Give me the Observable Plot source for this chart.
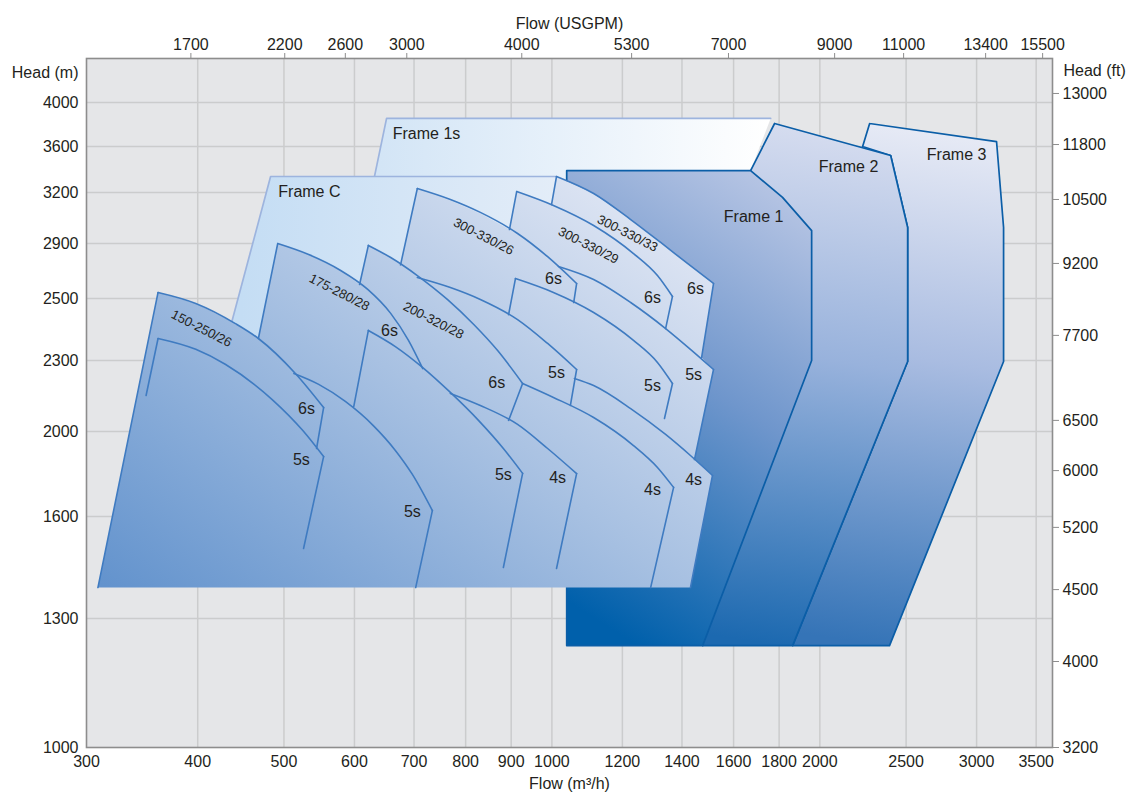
<!DOCTYPE html>
<html><head><meta charset="utf-8">
<script src="https://cdn.jsdelivr.net/npm/d3@7"></script>
<script src="https://cdn.jsdelivr.net/npm/@observablehq/plot@0.6"></script>
<style>html,body{margin:0;padding:0;background:#fff;}</style>
</head><body><div id="chart"></div>
<script>
// ---------- axis ticks ----------
const flowTicks = [300,400,500,600,700,800,900,1000,1200,1400,1600,1800,2000,2500,3000,3500];
const usgpmTicks = [1700,2200,2600,3000,4000,5300,7000,9000,11000,13400,15500];
const usgpmAtFlow = [393,501,586,687,925,1229,1579,2078,2484,3071,3559];
const headMTicks = [1000,1300,1600,2000,2300,2500,2900,3200,3600,4000];
const headFtTicks = [3200,4000,4500,5200,6000,6500,7700,9200,10500,11800,13000];
const headFtAtM = [1000,1200,1385,1568,1816,2047,2381,2755,3159,3618,4082];

// ---------- frame envelopes [flow m3/h, head m] ----------
const frame1s = [[652,3855],[1761,3855],[1672,3391],[1039,3391],[1039,1430],[510,1430]];
const frame1sEdge = [[510,1430],[652,3855],[1761,3855]];
const frameC  = [[483,3339],[1010,3339],[1134,1430],[367,1430]];
const frameCEdge = [[367,1430],[483,3339],[1010,3339]];
const frame1  = [[1039,3391],[1672,3391],[1816,3171],[1958,2976],[1958,2300],[1477,1237],[1039,1237]];
const frame2  = [[1779,3809],[2402,3522],[2510,2994],[2510,2296],[1864,1237],[1477,1237],[1672,3391]];
const frame3  = [[2275,3809],[3159,3645],[3217,2994],[3217,2296],[2395,1237],[1864,1237],[2510,2296],[2510,2994],[2402,3522],[2234,3600]];

// ---------- hydraulic families (union outline) ----------
const familyEnvelope = [[309,1391],[361,2544],[398,2484],[441,2419],[468,2371],[492,2900],[533,2820],[579,2704],[608,2602],[622,2886],[659,2798],[676,2745],[706,3235],[769,3153],[831,3077],[896,2982],[913,3209],[999,3129],[1012,3339],[1114,3194],[1226,3041],[1325,2906],[1420,2755],[1519,2609],[1473,2310],[1519,2262],[1446,1868],[1515,1793],[1431,1391]];

// stage curves (arcs)
const stageArcs = {
  A6: [[361,2544],[398,2484],[441,2419],[468,2371],[515,2245],[554,2101]],
  A5: [[361,2371],[398,2336],[430,2283],[485,2135],[525,2004],[554,1882]],
  B6: [[492,2900],[533,2820],[579,2704],[621,2566],[659,2452],[690,2365],[716,2266]],
  B5: [[513,2245],[547,2199],[586,2127],[630,2025],[667,1911],[697,1798],[734,1628]],
  C6: [[622,2886],[659,2798],[706,2667],[763,2497],[817,2416],[869,2332],[927,2203]],
  C5: [[622,2397],[667,2345],[716,2270],[769,2165],[827,2047],[882,1920],[927,1803]],
  D6: [[706,3235],[769,3159],[831,3083],[915,2959],[989,2804],[1066,2609]],
  D5: [[706,2653],[769,2580],[831,2497],[915,2432],[989,2355],[1066,2262]],
  D4: [[769,2161],[831,2110],[915,2030],[989,1920],[1066,1802]],
  E6: [[913,3209],[1004,3124],[1114,3006],[1235,2827],[1314,2667],[1366,2515]],
  E5: [[910,2645],[1004,2544],[1114,2455],[1235,2365],[1314,2292],[1366,2203]],
  E4: [[927,2203],[1004,2144],[1114,2059],[1235,1934],[1314,1831],[1370,1737]],
  F6: [[1012,3339],[1114,3194],[1226,3041],[1325,2906],[1420,2755],[1519,2609]],
  F5: [[1017,2733],[1114,2638],[1226,2487],[1342,2403],[1431,2336],[1519,2262]],
  F4: [[1060,2224],[1114,2194],[1226,2097],[1342,1986],[1431,1887],[1515,1793]]
};
// straight side edges
const stageEdges = {
  Aleft: [[309,1391],[361,2544]], A6r: [[554,2101],[544,1920]], A5l: [[361,2371],[350,2152]], A5r: [[554,1882],[526,1506]],
  Bleft: [[468,2371],[492,2900]], B5r: [[734,1628],[703,1391]],
  Cleft: [[608,2602],[622,2886]], C6r: [[927,2203],[894,2047]], C5l: [[622,2397],[599,2106]], C5r: [[927,1803],[882,1450]],
  Dleft: [[676,2745],[706,3235]], D6r: [[1066,2609],[1058,2487]], D5r: [[1066,2262],[1049,2110]], D4r: [[1066,1802],[1012,1447]],
  Eleft: [[896,2982],[913,3209]], E6r: [[1366,2515],[1342,2403]], E5l: [[910,2645],[894,2448]], E5r: [[1366,2203],[1338,2055]], E4r: [[1370,1737],[1291,1391]],
  Fleft: [[999,3129],[1012,3339]], F6r: [[1519,2609],[1473,2310]], F5r: [[1519,2262],[1446,1868]], F4r: [[1515,1793],[1431,1391]]
};

// ---------- labels ----------
const stageNames = ["6s","5s","6s","5s","6s","5s","6s","5s","4s","6s","5s","4s","6s","5s","4s"];
const stageFlow  = [530,523,657,697,867,882,1004,1012,1015,1297,1297,1297,1450,1443,1443];
const stageHead  = [2097,1868,2394,1624,2207,1798,2645,2249,1784,2507,2194,1727,2573,2241,1774];
const familyNames = ["150-250/26","175-280/28","200-320/28","300-330/26","300-330/29","300-330/33"];
const familyFlow  = [404,577,736,838,1099,1216];
const familyHead  = [2403,2544,2429,2941,2886,2959];
const frameNames = ["Frame 1s","Frame C","Frame 1","Frame 2","Frame 3"];
const frameFlow  = [723,534,1685,2154,2849];
const frameHead  = [3718,3209,3059,3426,3530];

// ---------- helpers ----------
const closed = pts => [...pts, pts[0]].map(([x, y]) => ({x, y}));
const open = pts => pts.map(([x, y]) => ({x, y}));
const rowsOf = obj => Object.entries(obj).flatMap(([id, pts]) => pts.map(([x, y]) => ({id, x, y})));
const usgpmLabel = new Map(usgpmAtFlow.map((v, i) => [v, usgpmTicks[i]]));
const ftLabel = new Map(headFtAtM.map((v, i) => [v, headFtTicks[i]]));

const gradients = [
  {id: "gFam", x1: 110, y1: 590, x2: 504, y2: 32, stops: [[0, "#6393cd"], [0.5, "#a8c1e2"], [1, "#eaedf7"]]},
  {id: "gF1s", x1: 380, y1: 0, x2: 770, y2: 0, stops: [[0, "#d3e5f6"], [1, "#ffffff"]]},
  {id: "gFC", x1: 240, y1: 0, x2: 560, y2: 0, stops: [[0, "#c4ddf4"], [1, "#e4edf8"]]},
  {id: "gF1", x1: 840, y1: 170, x2: 566, y2: 600, stops: [[0, "#c6cfe9"], [0.5, "#6f96cc"], [1, "#0060ab"]]},
  {id: "gF2", x1: 860, y1: 125, x2: 780, y2: 645, stops: [[0, "#d8def0"], [0.45, "#98b2dc"], [1, "#1c69b0"]]},
  {id: "gF3", x1: 960, y1: 125, x2: 880, y2: 645, stops: [[0, "#e9ecf6"], [0.45, "#a9bce1"], [1, "#3574b7"]]}
];
function gradientDefs() {
  const ns = "http://www.w3.org/2000/svg";
  const defs = document.createElementNS(ns, "defs");
  for (const g of gradients) {
    const lg = document.createElementNS(ns, "linearGradient");
    lg.setAttribute("id", g.id);
    lg.setAttribute("gradientUnits", "userSpaceOnUse");
    for (const k of ["x1", "y1", "x2", "y2"]) lg.setAttribute(k, g[k]);
    for (const [o, c] of g.stops) {
      const s = document.createElementNS(ns, "stop");
      s.setAttribute("offset", o);
      s.setAttribute("stop-color", c);
      lg.appendChild(s);
    }
    defs.appendChild(lg);
  }
  return defs;
}

const lineDark = "#0b5ea7", lineLight = "#9db4de", lineFam = "#3f7bc1";
const textColor = "#231f20";
const chart = Plot.plot({
  width: 1133, height: 799,
  marginLeft: 86, marginRight: 81, marginTop: 58, marginBottom: 52,
  style: {fontFamily: "'Liberation Sans', Arial, Helvetica, sans-serif", fontSize: "16px", color: textColor, background: "#ffffff", overflow: "visible"},
  x: {type: "log", domain: [300, 3651]},
  y: {type: "linear",
      domain: [1000, 1300, 1600, 2000, 2300, 2500, 2900, 3200, 3600, 4000, 4400],
      range:  [747, 618, 516, 431, 360, 298, 243, 192, 146, 102, 58]},
  marks: [
    gradientDefs,
    Plot.frame({fill: "#e5e6e8"}),
    Plot.ruleX(flowTicks.slice(1), {stroke: "#cbcccd", strokeWidth: 1.5}),
    Plot.ruleY(headMTicks.slice(1), {stroke: "#cbcccd", strokeWidth: 1.5}),
    // Frame 1s
    Plot.line(closed(frame1s), {x: "x", y: "y", fill: "url(#gF1s)", stroke: null}),
    Plot.line(open(frame1sEdge), {x: "x", y: "y", stroke: lineLight, strokeWidth: 1.7}),
    // Frames 3, 2, 1
    Plot.line(closed(frame3), {x: "x", y: "y", fill: "url(#gF3)", stroke: lineDark, strokeWidth: 1.7}),
    Plot.line(closed(frame2), {x: "x", y: "y", fill: "url(#gF2)", stroke: lineDark, strokeWidth: 1.7}),
    Plot.line(closed(frame1), {x: "x", y: "y", fill: "url(#gF1)", stroke: lineDark, strokeWidth: 1.7}),
    // Frame C
    Plot.line(closed(frameC), {x: "x", y: "y", fill: "url(#gFC)", stroke: null}),
    Plot.line(open(frameCEdge), {x: "x", y: "y", stroke: lineLight, strokeWidth: 1.7}),
    // hydraulic families
    Plot.line(closed(familyEnvelope), {x: "x", y: "y", fill: "url(#gFam)", stroke: null}),
    Plot.line(rowsOf(stageEdges), {x: "x", y: "y", z: "id", stroke: lineFam, strokeWidth: 1.6}),
    Plot.line(rowsOf(stageArcs), {x: "x", y: "y", z: "id", stroke: lineFam, strokeWidth: 1.6, curve: "monotone-x"}),
    Plot.text(familyNames, {x: familyFlow, y: familyHead, text: d => d, rotate: 27, fontSize: 13, fill: textColor}),
    Plot.text(stageNames, {x: stageFlow, y: stageHead, text: d => d, fontSize: 16, fill: textColor}),
    Plot.text(frameNames, {x: frameFlow, y: frameHead, text: d => d, fontSize: 16, fill: textColor}),
    Plot.frame({stroke: "#8d8d8d", strokeWidth: 1.6}),
    Plot.axisX(flowTicks, {anchor: "bottom", tickSize: 0, tickPadding: 8, tickFormat: d => String(d), label: null}),
    Plot.axisX(usgpmAtFlow, {anchor: "top", tickSize: 6, tickPadding: 3, stroke: "#8d8d8d", tickFormat: d => String(usgpmLabel.get(d)), label: null}),
    Plot.axisY(headMTicks, {anchor: "left", tickSize: 0, tickPadding: 8, tickFormat: d => String(d), label: null}),
    Plot.axisY(headFtAtM, {anchor: "right", tickSize: 6, tickPadding: 4, stroke: "#8d8d8d", tickFormat: d => String(ftLabel.get(d)), label: null}),
    Plot.text(["Flow (USGPM)"], {frameAnchor: "top", dy: -41, fill: textColor}),
    Plot.text(["Flow (m³/h)"], {frameAnchor: "bottom", dy: 41, fill: textColor}),
    Plot.text(["Head (m)"], {frameAnchor: "top-left", dx: -8, dy: 8, textAnchor: "end", fill: textColor}),
    Plot.text(["Head (ft)"], {frameAnchor: "top-right", dx: 11, dy: 6, textAnchor: "start", fill: textColor})
  ]
});
document.getElementById("chart").appendChild(chart);
</script>
</body></html>
